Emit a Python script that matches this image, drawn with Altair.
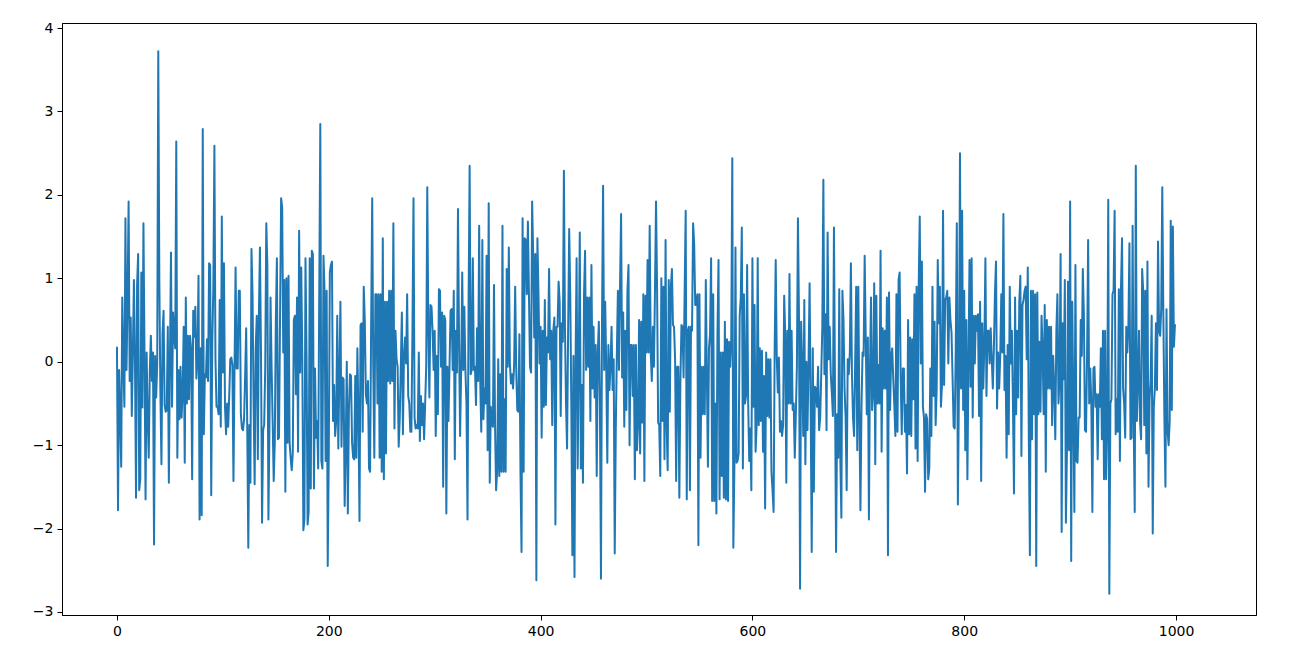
import altair as alt
import pandas as pd

# Series values, in order of the step index (0..999)
seg01 = [0.18, -1.78, -0.10, -0.60, -1.26, 0.77, 0.00, -0.54, 1.72, -0.10,
         0.75, 1.92, -0.23, 0.53, -0.65, 0.10, 0.98, 0.00, -1.63, 0.92,
         1.29, -1.54, -1.41, 1.07, -0.55, 1.66, 0.10, -1.65, 0.11, -0.66,
         -1.15, -0.12, 0.31, -0.23, 0.11, -2.19, 0.07, -0.43, -0.02, 3.72,
         0.97, -0.37, -1.23, 0.33, 0.61, -0.52, -0.60, -0.58, 0.42, -1.45,
         0.00, 1.31, -0.54, 0.59, 0.33, 0.16, 2.64, -1.15, -0.10, -0.69,
         -0.06, -0.67, -0.37, 0.42, -1.21, 0.77, -0.50, 0.31, -0.45, 0.31,
         0.16, -1.41, 0.61, 0.30, 0.66, -0.20, 0.05, 1.03, -1.89]
seg02 = [0.16, -1.84, 2.79, -0.87, -0.15, -0.19, 0.27, -0.23, 1.18, 1.16,
         -1.60, 0.24, 0.90, 2.59, 0.03, -0.54, -0.54, -0.63, 0.74, -0.78,
         1.74, -0.13, 1.18, -0.54, -0.87, -0.50, -0.78, -0.41, 0.03, 0.05,
         -0.04, -1.43, -0.08, 1.13, -0.08, -0.08, 0.85, 0.85, -0.63, -0.80,
         -0.82, -0.69, -0.19, 0.40, -0.76, -2.23, -0.76, -1.45, 1.35, 0.81,
         -0.50, -1.47, 0.16, 0.55, -1.17, 0.55, 1.37, 0.11, -1.93, -0.82,
         -0.76, -0.06, 1.66, 1.16, -1.89, -0.76, 0.77, -0.06, -0.71, -1.43,
         -0.97, 0.48, 1.24, -0.93, -0.91, 0.55, 1.96, 1.85, 0.11, 0.98,
         -1.56, 1.00, -0.97]
seg03 = [1.03, -0.97, -1.15, -1.30, -1.10, 0.50, 0.55, -0.39, 0.77, -1.08,
         1.57, -0.13, 1.13, 0.07, -2.02, -1.89, 1.24, 0.07, -1.95, -1.80,
         1.24, -1.52, 1.33, 1.29, -1.52, -0.08, -0.91, -0.71, -1.28, 0.81,
         2.85, -1.19, -1.28, 1.27, 0.85, -1.19, 0.85, -2.45, -1.10, 1.07,
         1.16, 1.20, -0.71, -0.28, -0.89, -0.71, 0.55, -1.04, -0.15, 0.72,
         -1.02, -0.19, -0.21, -1.73, -1.02, 0.00, -1.82, -0.58, -0.15, -0.17,
         -0.97, -1.15, -1.17, -0.17, -1.15, 0.16, -0.63, -1.91, 0.44, 0.46,
         -0.84, 0.90, 0.50, -0.39, -0.50, -0.23, -1.28, -1.32, 0.44, 1.96,
         -0.08, -1.15, 0.81]
seg04 = [0.81, -0.50, 0.81, -1.15, 0.81, -1.32, 1.48, -1.41, 0.72, -1.10,
         0.72, -0.23, 0.85, -0.26, 0.85, -0.23, 1.66, -0.80, 0.37, 0.03,
         -0.06, -1.02, -0.69, -0.06, 0.59, -0.87, 0.07, 0.29, -0.02, 0.81,
         -0.41, -0.50, -0.84, -0.84, 0.37, 1.96, -0.67, -0.80, -0.76, -0.80,
         0.11, -0.95, -0.41, -0.76, -0.50, -0.93, -0.50, -0.06, 2.09, 0.37,
         -0.43, 0.68, 0.66, 0.37, -0.10, 0.37, -0.89, 0.07, -0.63, 0.87,
         0.85, -0.06, 0.59, -1.50, 0.55, 0.50, -1.82, -0.06, -0.71, -0.06,
         0.61, 0.63, -0.10, 0.85, -1.17, 0.37, -0.13, 1.83, 0.24, -0.89,
         -0.10, 1.07, -0.10]
seg05 = [0.66, -0.10, -0.50, -1.89, 0.72, 2.35, -0.15, -0.10, 1.24, -0.10,
         -0.06, -0.52, 0.40, -0.23, 1.63, -0.23, -0.84, 1.46, -0.69, -0.32,
         -0.50, 1.27, -1.06, 1.90, -1.45, -0.54, -0.76, -0.78, 0.92, -0.78,
         -1.54, -1.30, 0.03, -1.37, -0.15, -1.32, 1.63, -1.32, -0.45, -1.32,
         1.11, -0.06, 1.37, -0.02, -0.26, -0.15, -0.32, -0.04, 0.90, -0.10,
         -0.58, -0.60, 0.33, -1.32, -2.28, 1.72, -1.32, 1.48, 1.46, 0.81,
         1.68, 0.81, -0.06, -0.13, 1.92, 1.29, 0.29, 1.29, -2.62, 1.48,
         0.81, -0.02, 0.42, -0.91, 0.37, -0.54, 0.74, -0.52, 0.29, 0.11,
         1.11, 0.03, 0.37]
seg06 = [-0.76, 0.37, 0.53, -1.95, 0.42, 0.42, 0.96, 0.72, -0.65, 0.46,
         0.24, 2.29, 0.42, -0.50, -1.04, 0.37, 1.59, 0.81, -0.50, -2.32,
         0.07, -2.58, -0.02, 1.24, -1.28, -0.06, 1.55, -1.28, -0.28, -1.45,
         0.81, 1.33, -0.10, 0.77, -0.06, 0.77, -0.71, 1.16, -0.32, 0.42,
         -0.43, 0.20, -1.37, 0.11, 0.48, -0.50, -2.60, 0.50, 2.11, -0.10,
         0.72, -0.10, -1.21, 0.20, -0.34, -0.06, 0.42, -0.34, 0.03, -2.30,
         -0.80, 0.11, 0.85, -0.10, 0.90, 1.77, -0.19, 0.59, -0.78, 0.37,
         -0.58, 0.85, 1.16, -1.00, 0.20, 0.20, -0.41, 0.20, -1.41, 0.20,
         -1.06, -0.76, 0.50]
seg07 = [-1.10, 0.48, -0.73, 0.81, -1.43, 0.79, 0.11, 1.22, 0.11, 1.63,
         0.11, -0.23, 0.42, -0.06, 0.85, 1.92, 0.85, -0.73, -0.76, -1.37,
         1.00, -0.71, 0.90, -1.17, 1.46, -0.76, -1.30, 0.98, -0.60, 0.90,
         1.11, 0.44, 0.42, 0.03, -1.43, -0.06, -0.06, -1.63, -0.23, 0.44,
         0.42, -0.19, 0.83, 1.81, -1.65, 0.37, 0.42, -1.54, 0.42, 0.37,
         1.66, 1.42, 0.68, 0.68, 0.81, -2.20, 0.81, -1.15, -0.06, -0.63,
         -0.06, -0.63, 0.98, -0.15, -1.26, 0.16, 0.33, 1.24, -1.67, 0.81,
         -1.67, -0.50, -1.82, 0.35, 1.22, -1.65, 0.11, -1.37, 0.11, -1.63,
         0.48, -1.65, 0.27]
seg08 = [-1.67, 0.24, -0.06, 0.24, 2.44, -2.23, -1.23, 1.37, -1.21, -1.19,
         -1.10, 0.55, 0.77, 1.61, -1.28, 0.81, -0.50, -0.41, 1.16, -0.50,
         -1.19, -0.80, -1.54, 1.24, -0.54, 0.68, -1.08, -0.76, 1.24, -0.76,
         0.16, -0.71, 0.13, -1.08, -0.17, -1.76, 0.11, -0.65, 0.03, -0.67,
         0.03, -1.32, -1.54, -1.80, 0.13, 1.22, 0.05, -0.37, 0.05, -0.84,
         -0.71, -0.89, -0.76, 0.79, 0.33, -1.45, 0.37, -0.50, 1.05, -0.50,
         0.37, -0.58, -0.50, -1.15, -0.63, -0.06, 1.72, 0.50, -2.72, 0.48,
         -0.06, -0.89, 0.74, -1.23, 0.00, -0.82, -0.02, 0.94, -0.54, -2.28,
         0.16, -1.56, -0.30]
seg09 = [-0.32, -0.54, -0.06, -0.82, -0.67, -0.15, 0.42, 2.18, -0.15, 0.57,
         -0.82, 1.55, 0.03, 0.42, -0.15, -0.37, -0.65, 1.61, -0.37, -2.28,
         -0.63, -1.15, 0.87, -1.15, -1.87, 0.85, 0.50, -0.32, -0.67, -1.54,
         0.03, -0.15, 0.11, 1.18, -0.15, -0.67, -0.89, -0.02, 0.90, -1.06,
         0.90, -0.63, -1.78, -0.54, 0.11, 0.07, 1.27, 0.29, -0.63, 0.29,
         -1.89, -0.10, 0.77, -0.58, -0.37, 0.94, -1.23, 0.79, -0.50, -0.04,
         -0.50, 1.33, -1.08, 0.40, -0.32, 0.37, -0.32, 0.77, -2.32, 0.83,
         -0.58, 0.07, 0.16, -0.21, -0.52, -0.89, 0.81, -0.84, 0.98, 1.07,
         -0.19, -0.87, -0.08]
seg10 = [-0.08, -0.84, -0.52, -1.34, 0.50, -0.87, 0.29, -0.89, 0.27, -0.45,
         0.81, -1.04, 0.90, -1.19, 0.90, 1.74, -0.02, 1.20, -0.54, -0.67,
         -1.56, -0.63, -0.69, -1.41, -1.28, -0.08, -0.89, 0.90, -0.41, 0.48,
         -0.76, -0.32, 1.22, 0.46, 0.90, -0.54, -0.28, 1.81, -0.28, 0.74,
         0.77, 0.85, -0.02, 0.77, 0.50, 0.35, -0.19, -0.78, -0.80, 0.16,
         1.66, -1.71, -0.32, 2.50, -0.32, 1.81, -0.58, 0.85, -1.06, 0.50,
         -1.41, -0.02, 1.22, -0.30, 1.24, -0.67, 0.55, -0.02, 0.55, 0.37,
         0.57, -0.65, 0.72, -1.43, 0.46, -0.32, 0.20, 1.24, -0.41, 0.37,
         0.37, -0.02, 0.40]
seg11 = [0.03, -0.32, 0.16, 0.81, 1.20, -0.56, 0.11, -0.32, 0.07, 0.81,
         0.11, 1.77, -0.34, 0.07, -1.15, 0.20, -0.87, 0.90, -0.02, 0.37,
         -0.50, -1.58, 0.77, -0.63, 0.37, -0.43, 0.72, 1.03, -1.13, 0.68,
         0.74, 0.85, 0.90, 0.03, 1.13, -0.93, -2.32, 0.85, -0.93, 0.85,
         -0.63, 0.81, -2.45, 0.83, -0.63, 0.24, -0.60, 0.55, 0.16, -0.63,
         0.68, -1.32, 0.50, -0.32, 0.42, -0.32, 0.42, -0.76, 0.07, -0.32,
         -0.93, 0.37, 0.81, -0.50, -0.21, 1.29, -2.04, 0.46, -0.21, 0.98,
         -1.93, -1.06, 0.96, -1.06, 1.92, -2.39, 0.72, -0.50, -1.80, 1.16,
         -1.19, -1.21, -0.67]
seg12 = [-0.67, 0.50, 0.07, 1.11, 0.55, -0.82, -0.84, 0.07, 1.46, -0.50,
         -0.08, -0.50, -1.80, -0.08, -0.06, -0.54, -0.39, -1.17, -0.39, -0.54,
         0.16, -0.93, 0.37, -1.41, 0.37, -1.41, -0.76, 1.94, -2.78, -0.50,
         -0.45, 0.81, 0.85, 1.81, -0.87, -0.45, -0.84, 0.87, -1.19, 0.87,
         1.48, -0.32, -0.50, -0.91, 0.42, 0.11, 0.42, 1.42, -0.93, -0.91,
         1.63, -0.73, -1.80, 2.35, -0.71, -0.28, 0.37, -0.71, -0.93, 1.11,
         0.85, -0.76, 0.85, -1.10, 1.20, -1.50, -0.45, -0.21, 0.55, -2.06,
         -0.54, -0.32, 0.46, -0.34, 1.44, 0.37, 0.31, 0.63, 2.09, 0.59,
         -0.67, -1.50, 0.63, -0.82, -1.00, -0.71, 1.69, -0.58, 1.62, 0.18,
         0.45]

values = (seg01 + seg02 + seg03 + seg04 + seg05 + seg06 + seg07 + seg08
          + seg09 + seg10 + seg11 + seg12)
steps = list(range(len(values)))

x_ticks = [0, 200, 400, 600, 800, 1000]
y_ticks = [-3, -2, -1, 0, 1, 2, 3, 4]

df = pd.DataFrame({"step": steps, "value": values})

axis_style = dict(
    grid=False,
    domainColor="black",
    domainWidth=1,
    tickColor="black",
    tickWidth=1,
    tickSize=5,
    labelColor="black",
    labelFont="DejaVu Sans",
    labelFontSize=14,
    labelPadding=4,
    format="d",
    title="",
)

chart = (
    alt.Chart(df)
    .mark_line(color="#1f77b4", strokeWidth=2, strokeJoin="round", clip=True)
    .encode(
        x=alt.X(
            "step:Q",
            scale=alt.Scale(domain=[-51.9, 1075.5], nice=False, zero=False),
            axis=alt.Axis(values=x_ticks, **axis_style),
        ),
        y=alt.Y(
            "value:Q",
            scale=alt.Scale(domain=[-3.036, 4.06], nice=False, zero=False),
            axis=alt.Axis(values=y_ticks, **axis_style),
        ),
    )
    .properties(
        width=1194,
        height=592,
        autosize=alt.AutoSizeParams(type="none"),
        padding={"left": 54, "top": 15, "right": 30, "bottom": 45},
        background="white",
    )
    .configure_view(stroke="black", strokeWidth=1)
)

chart.save("out.html", embed_options={"renderer": "svg", "actions": False})
